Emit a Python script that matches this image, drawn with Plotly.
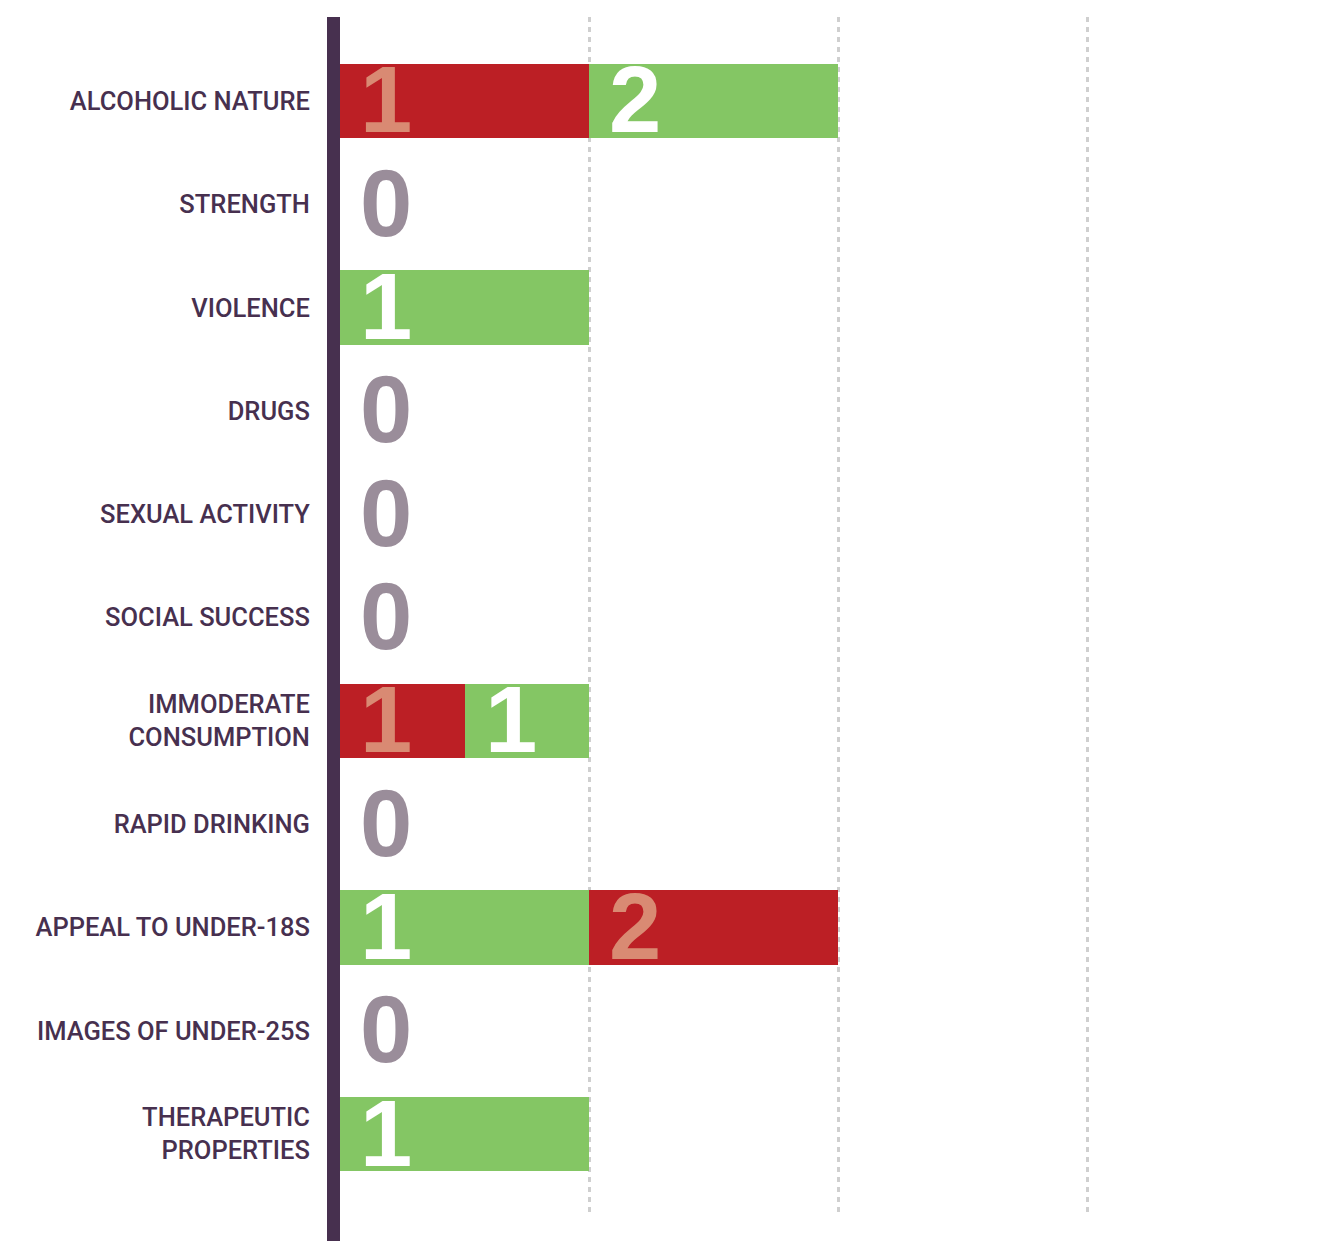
import plotly.graph_objects as go

# Issues assessed, top to bottom
categories = [
    "ALCOHOLIC NATURE",
    "STRENGTH",
    "VIOLENCE",
    "DRUGS",
    "SEXUAL ACTIVITY",
    "SOCIAL SUCCESS",
    "IMMODERATE<br>CONSUMPTION",
    "RAPID DRINKING",
    "APPEAL TO UNDER-18S",
    "IMAGES OF UNDER-25S",
    "THERAPEUTIC<br>PROPERTIES",
]

# Each bar is made of up to two segments; "neg" segments are red, "pos" green.
first_kind = ["neg", "", "pos", "", "", "", "neg", "", "pos", "", "pos"]
first_count = [1, 0, 1, 0, 0, 0, 1, 0, 1, 0, 1]
first_len = [1, 0, 1, 0, 0, 0, 0.5, 0, 1, 0, 1]

second_kind = ["pos", "", "", "", "", "", "pos", "", "neg", "", ""]
second_count = [2, 0, 0, 0, 0, 0, 1, 0, 2, 0, 0]
second_len = [1, 0, 0, 0, 0, 0, 0.5, 0, 1, 0, 0]

x_ticks = [1, 2, 3]

RED = "#bc1f25"
GREEN = "#84c664"
SALMON = "#d98a73"
WHITE = "#ffffff"
GREY = "#9a8d9a"
PURPLE = "#47304f"

fill = {"neg": RED, "pos": GREEN, "": "rgba(0,0,0,0)"}
label_col = {"neg": SALMON, "pos": WHITE}

fig = go.Figure()
fig.add_trace(go.Bar(
    y=categories, x=first_len, orientation="h",
    marker=dict(color=[fill[k] for k in first_kind], line=dict(width=0)),
    width=0.72, hoverinfo="skip", showlegend=False,
))
fig.add_trace(go.Bar(
    y=categories, x=second_len, orientation="h",
    marker=dict(color=[fill[k] for k in second_kind], line=dict(width=0)),
    width=0.72, hoverinfo="skip", showlegend=False,
))

DIGIT_FONT = "Liberation Sans, Arial, sans-serif"


def digit(x, cat, text, color):
    return dict(
        x=x, y=cat, text=text, showarrow=False, xanchor="left", yanchor="middle",
        xshift=18, yshift=1,
        font=dict(family=DIGIT_FONT, size=94, color=color, weight="bold"),
    )


annotations = []
for i, cat in enumerate(categories):
    if first_count[i] == 0 and second_count[i] == 0:
        annotations.append(digit(0, cat, "0", GREY))
        continue
    if first_count[i]:
        annotations.append(digit(0, cat, str(first_count[i]), label_col[first_kind[i]]))
    if second_count[i]:
        annotations.append(digit(first_len[i], cat, str(second_count[i]),
                                 label_col[second_kind[i]]))

PLOT_W = 1331 - 340
PLOT_H = 1241 - 17 - 26

fig.update_layout(
    barmode="stack",
    width=1331, height=1241,
    margin=dict(l=340, r=0, t=17, b=26),
    paper_bgcolor="white", plot_bgcolor="white",
    bargap=0,
    annotations=annotations,
    xaxis=dict(
        range=[0, PLOT_W / 249], tickvals=x_ticks, showticklabels=False,
        showgrid=True, gridcolor="#cfcfcf", gridwidth=2.5, griddash="5px,5px",
        zeroline=False, showline=False, fixedrange=True,
    ),
    yaxis=dict(
        type="category", categoryorder="array", categoryarray=categories,
        range=[10.784, -0.813], showgrid=False, zeroline=False, showline=False,
        ticks="outside", ticklen=24, tickcolor="rgba(0,0,0,0)",
        tickfont=dict(family="Roboto, Liberation Sans, sans-serif", size=25.5,
                      color=PURPLE, weight=500),
    ),
    # thick vertical rule at the left edge of the bars
    shapes=[dict(
        type="line", xref="paper", yref="paper",
        x0=-6.5 / PLOT_W, x1=-6.5 / PLOT_W, y0=-26 / PLOT_H, y1=1,
        line=dict(color=PURPLE, width=13),
    )],
)

fig.write_html("out.html")
